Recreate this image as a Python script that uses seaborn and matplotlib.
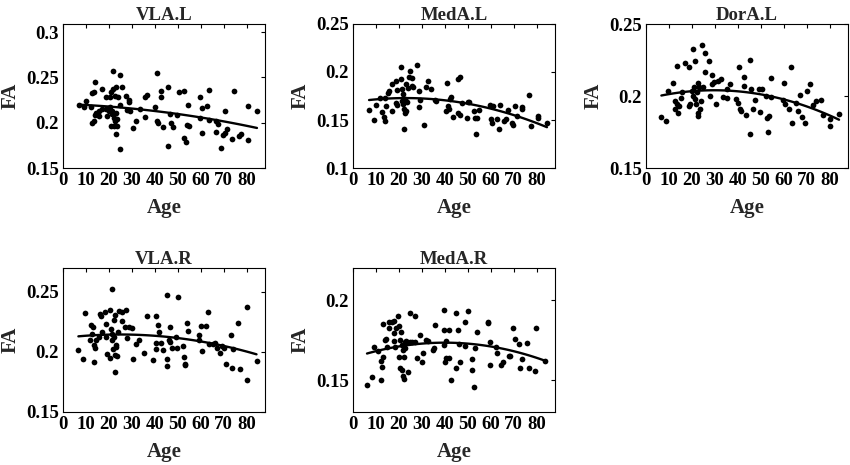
import matplotlib
matplotlib.use("Agg")
import matplotlib.pyplot as plt
import seaborn as sns
from matplotlib.ticker import FuncFormatter

# ages and FA values
vla_l_age = [6.8, 9, 9.9, 12.2, 12.8, 13.5, 13.9, 12.8, 13.5, 13.9, 14.5, 15.7, 15.9, 16.8, 17.1,
             18.6, 18.8, 19.1, 19.9, 20.3, 20.6, 20.9, 21, 21.2, 21.4, 21.7, 21.9, 22, 22.3, 22.6,
             22.8, 22.9, 22.9, 23.2, 23.5, 23.6, 23.9, 24.9, 24.9, 24.9, 25.8, 27.5, 27.8, 28.6,
             28.8, 29, 30.7, 31.9, 33.6, 35.7, 35.9, 36.7, 39.9, 40.9, 41, 41.3, 42.6, 42.9, 43.5,
             45.8, 45.8, 46.7, 47, 47.8, 49.7, 50.6, 52.8, 52.6, 53.8, 53.9, 54.6, 54.8, 59.6,
             59.7, 60.6, 60.6, 62.6, 63.8, 63.8, 66.7, 66.7, 67.7, 68.7, 69.6, 70.4, 70.6, 71.4,
             73.5, 74.5, 76.8, 77.5, 80.4, 80.6, 84.5]
vla_l_fa = [0.2195, 0.2176, 0.2243, 0.2176, 0.2324, 0.2342, 0.2445, 0.2, 0.2015, 0.2088, 0.2103,
            0.2077, 0.2125, 0.2371, 0.2151, 0.2151, 0.2287, 0.2077, 0.2125, 0.2287, 0.2176, 0.1967,
            0.2335, 0.2096, 0.2125, 0.2574, 0.2371, 0.2051, 0.1967, 0.2298, 0.2022, 0.239, 0.1875,
            0.2103, 0.204, 0.1967, 0.2287, 0.2529, 0.171, 0.2199, 0.239, 0.2298, 0.214, 0.225,
            0.2224, 0.2125, 0.1941, 0.2015, 0.2151, 0.2059, 0.2287, 0.2309, 0.2169, 0.2544, 0.2022,
            0.1993, 0.2279, 0.2346, 0.1956, 0.2397, 0.1746, 0.2096, 0.1993, 0.1956, 0.2088, 0.2342,
            0.2353, 0.1831, 0.1783, 0.1978, 0.2191, 0.1967, 0.2279, 0.2051, 0.189, 0.2158, 0.2187,
            0.2364, 0.2029, 0.2022, 0.19, 0.1985, 0.1721, 0.1868, 0.1882, 0.2132, 0.193, 0.182,
            0.2353, 0.1857, 0.1875, 0.1812, 0.2187, 0.2132]

meda_l_age = [7, 9, 9.9, 11.9, 12.8, 13.3, 13.9, 14.2, 13.8, 15.1, 15.7, 17, 17.1, 18.7, 18.8,
              19.1, 19.3, 20.9, 20.9, 21.2, 21.4, 21.7, 21.7, 22, 22.2, 22.5, 22.6, 22.9, 23.2,
              23.5, 23.8, 24.3, 24.9, 25.5, 25.8, 26.1, 27.8, 28.7, 28.8, 29.3, 30.9, 31.9, 32.8,
              33.9, 35.9, 36.2, 40.6, 40.9, 41.2, 41.7, 42.3, 42.8, 43.5, 45.8, 46.7, 45.8, 46.7,
              47.4, 49.7, 50.1, 50.7, 52.5, 53, 53.8, 54.1, 54.8, 59.7, 60, 60.6, 60.9, 62.6, 63.5,
              63.9, 65.9, 66.7, 67.5, 69.1, 69.9, 70.6, 71.6, 73.6, 73.8, 76.5, 77.5, 80.6, 80.7,
              84.5]
meda_l_fa = [0.1608, 0.1503, 0.166, 0.1729, 0.1583, 0.1528, 0.1493, 0.1642, 0.1729, 0.1778, 0.1799,
             0.1875, 0.159, 0.1903, 0.1674, 0.1812, 0.166, 0.1927, 0.2049, 0.1701, 0.1823, 0.1667,
             0.1771, 0.1406, 0.1615, 0.1569, 0.1719, 0.1875, 0.159, 0.1684, 0.1833, 0.1951, 0.2014,
             0.1858, 0.1938, 0.1847, 0.2076, 0.1639, 0.1799, 0.1708, 0.1448, 0.184, 0.1903, 0.1823,
             0.1708, 0.1694, 0.159, 0.1889, 0.1649, 0.1615, 0.1715, 0.1743, 0.1528, 0.1927, 0.1944,
             0.1569, 0.1556, 0.1674, 0.1521, 0.1688, 0.1688, 0.159, 0.1521, 0.1354, 0.1521, 0.1604,
             0.166, 0.151, 0.1465, 0.1649, 0.151, 0.1406, 0.1653, 0.1493, 0.151, 0.1604, 0.1465,
             0.1451, 0.1649, 0.1545, 0.1639, 0.1615, 0.176, 0.1434, 0.1545, 0.1521, 0.1465]

dora_l_age = [6.7, 8.7, 9.7, 11.7, 13.6, 12.8, 12.5, 13.8, 13.3, 14.5, 15.4, 16.8, 15.9, 18.7, 18.6,
              19, 20, 20.6, 20.3, 20.9, 21.2, 21.4, 21.7, 22, 22.5, 22.6, 22.8, 23.2, 23.6, 24.1,
              24.6, 24.9, 25.5, 25.8, 27.5, 27.7, 28.7, 28.8, 29.7, 30.6, 31.3, 32.6, 33.6, 35.2,
              35.5, 36.5, 39.4, 40.4, 40, 40.9, 41.6, 42.5, 42.6, 43.5, 45.4, 45.5, 45.8, 46.4, 47.4,
              49.3, 49.7, 50.4, 52.2, 52.5, 53.3, 53.6, 54.3, 54.5, 59.7, 60.3, 60.6, 62.3, 63.3,
              63.5, 65.2, 66.2, 67.1, 68.1, 69.3, 70.3, 71.3, 72.9, 74.2, 76.4, 77.2, 80, 80.1, 84.1]
dora_l_fa = [0.1857, 0.1824, 0.2032, 0.2088, 0.2208, 0.1963, 0.191, 0.188, 0.1944, 0.193, 0.1986,
             0.2227, 0.2025, 0.2204, 0.193, 0.1944, 0.2037, 0.2326, 0.2002, 0.206, 0.1979, 0.2245,
             0.1944, 0.2025, 0.2088, 0.188, 0.1863, 0.206, 0.191, 0.1963, 0.2356, 0.206, 0.2296,
             0.2169, 0.2245, 0.2002, 0.2148, 0.2083, 0.2097, 0.1944, 0.2106, 0.2118, 0.1995, 0.1986,
             0.2049, 0.2083, 0.1979, 0.2199, 0.1949, 0.191, 0.1898, 0.2134, 0.2072, 0.187, 0.225,
             0.1736, 0.2049, 0.191, 0.1972, 0.2049, 0.1887, 0.2046, 0.2002, 0.1847, 0.1748, 0.1863,
             0.2125, 0.1991, 0.1972, 0.2088, 0.1944, 0.191, 0.2204, 0.1815, 0.1949, 0.1894, 0.2009,
             0.1852, 0.181, 0.2037, 0.2083, 0.194, 0.1968, 0.1972, 0.187, 0.1843, 0.1794, 0.1875]

vla_r_age = [6.7, 8.7, 9.7, 13.6, 12.2, 13, 11.6, 12.8, 13.3, 13.9, 14.5, 15.7, 16.2, 16.7, 17.1,
             18.4, 18.6, 18.8, 19.3, 20.3, 20.6, 20.9, 21.2, 21.4, 21.4, 21.7, 22, 22.3, 22.6, 22.8,
             22.9, 23.2, 22.5, 23.5, 24.1, 24.6, 25.5, 25.8, 27.2, 27.5, 27.8, 28.7, 29.9, 30.4,
             31.6, 33.3, 35.4, 36.5, 39.4, 40.3, 40.3, 40.6, 41.4, 42, 42.9, 43.5, 45.4, 45.4, 45.5,
             46.1, 46.4, 46.7, 47.5, 49.6, 50.1, 49.4, 52.2, 52.5, 53, 53.3, 54.2, 54.3, 59.1, 59.3,
             60.3, 60.6, 62.3, 63.3, 63.5, 65.2, 66.4, 67.2, 68.4, 69.3, 70.1, 71, 73.2, 73.5, 74.2,
             76.2, 77.1, 80.1, 80.1, 84.3]
vla_r_fa = [0.2014, 0.1945, 0.2324, 0.1918, 0.2225, 0.2206, 0.2096, 0.2151, 0.2055, 0.2033, 0.2104,
            0.2124, 0.2316, 0.2302, 0.217, 0.233, 0.2234, 0.2124, 0.1986, 0.2352, 0.1951, 0.2192,
            0.2151, 0.2522, 0.2096, 0.2027, 0.2269, 0.2124, 0.2308, 0.1978, 0.2055, 0.2041, 0.183,
            0.1967, 0.2165, 0.2343, 0.2261, 0.2335, 0.2206, 0.2352, 0.2115, 0.2206, 0.2198, 0.194,
            0.2069, 0.2104, 0.1995, 0.2302, 0.1931, 0.2302, 0.2022, 0.2077, 0.2225, 0.217, 0.2077,
            0.2014, 0.2473, 0.1945, 0.1885, 0.2104, 0.2206, 0.2082, 0.2033, 0.2033, 0.2462, 0.2124,
            0.2049, 0.1959, 0.1904, 0.189, 0.2242, 0.2176, 0.2143, 0.2104, 0.2214, 0.2005, 0.2214,
            0.2335, 0.2069, 0.2069, 0.2077, 0.2033, 0.1995, 0.2049, 0.2033, 0.1896, 0.2143, 0.1863,
            0.2027, 0.2242, 0.1857, 0.2371, 0.1766, 0.1923]

meda_r_age = [6.1, 8.1, 9, 11, 12.2, 12.2, 12.8, 13, 13, 13.9, 14.5, 14.9, 15.7, 15.9, 16.8, 18,
              17.7, 18, 18.3, 18.8, 19.7, 20, 20, 20.3, 20.6, 21, 21.2, 21.4, 21.7, 21.7, 22, 22.2,
              22.5, 22.8, 23.2, 23.9, 24.9, 24.9, 25.8, 27, 27.2, 27.8, 29, 29.9, 30.7, 31.9, 32.8,
              34.8, 35.1, 35.9, 39.7, 39.7, 39.7, 40, 40.3, 40.7, 41.7, 42, 42.9, 44.9, 44.9, 45.8,
              46.1, 46.7, 48.7, 48.7, 49.9, 51.9, 51.9, 52.9, 53.3, 53.9, 58.7, 58.8, 59.7, 59.7,
              62.3, 62.6, 64.5, 65.2, 67.8, 68.4, 69.6, 70.7, 72.5, 73.6, 72.8, 75.7, 76.8, 79.4,
              79.7, 83.8]
meda_r_fa = [0.1471, 0.1517, 0.171, 0.1683, 0.1621, 0.1498, 0.1583, 0.1648, 0.185, 0.1752, 0.1758,
             0.1708, 0.1863, 0.1825, 0.1867, 0.1871, 0.1794, 0.1746, 0.1708, 0.1829, 0.1904, 0.1842,
             0.1648, 0.1575, 0.1752, 0.1804, 0.1565, 0.1721, 0.169, 0.1523, 0.1508, 0.1648, 0.1738,
             0.17, 0.1746, 0.1554, 0.1919, 0.1738, 0.1738, 0.1904, 0.1738, 0.1642, 0.1783, 0.1617,
             0.1669, 0.1752, 0.1746, 0.169, 0.17, 0.1846, 0.194, 0.1815, 0.1721, 0.1617, 0.1642,
             0.1746, 0.1815, 0.1642, 0.1502, 0.1919, 0.1579, 0.1815, 0.1725, 0.1613, 0.1717, 0.1867,
             0.1933, 0.1633, 0.1565, 0.1454, 0.17, 0.1804, 0.1863, 0.1856, 0.1596, 0.1742, 0.171,
             0.1669, 0.1592, 0.1617, 0.1654, 0.1654, 0.1825, 0.1758, 0.1725, 0.1633, 0.1579, 0.1731,
             0.1575, 0.1558, 0.1829, 0.1621]

titles = ["VLA.L", "MedA.L", "DorA.L", "VLA.R", "MedA.R"]
ages = [vla_l_age, meda_l_age, dora_l_age, vla_r_age, meda_r_age]
fas = [vla_l_fa, meda_l_fa, dora_l_fa, vla_r_fa, meda_r_fa]
ylims = [(0.15, 0.309), (0.1, 0.25), (0.15, 0.25), (0.15, 0.27), (0.13, 0.2204)]
yticks = [[0.15, 0.2, 0.25, 0.3], [0.1, 0.15, 0.2, 0.25], [0.15, 0.2, 0.25],
          [0.15, 0.2, 0.25], [0.15, 0.2]]
xticks = [0, 10, 20, 30, 40, 50, 60, 70, 80]

sns.set_style("white")
plt.rcParams['font.family'] = ['Liberation Serif', 'DejaVu Serif']
plt.rcParams['font.weight'] = 'bold'

fig = plt.figure(figsize=(8.5, 4.65), dpi=100)

# panel boxes in pixels: left, top
lefts = [63, 353, 646, 63, 353]
tops = [24, 24, 24, 268, 268]
w, h = 202, 144

for i in range(5):
    ax = fig.add_axes([lefts[i] / 850, 1 - (tops[i] + h) / 465, w / 850, h / 465])
    # quadratic fit, like the original
    sns.regplot(x=ages[i], y=fas[i], order=2, ci=None, ax=ax, color='black',
                scatter_kws={'s': 17, 'linewidths': 0, 'alpha': 1},
                line_kws={'lw': 1.7})
    ax.set_xlim(0, 88)
    ax.set_ylim(*ylims[i])
    ax.set_xticks(xticks)
    ax.set_yticks(yticks[i])
    ax.yaxis.set_major_formatter(FuncFormatter(lambda v, p: '%g' % v))
    ax.tick_params(direction='in', top=True, right=True, length=3, width=0.8,
                   labelsize=13.5, pad=3, colors='black')
    for lab in ax.get_xticklabels() + ax.get_yticklabels():
        lab.set_fontweight('bold')
    for sp in ax.spines.values():
        sp.set_color('black')
        sp.set_linewidth(0.8)
    ax.set_title(titles[i], fontsize=13.5, fontweight='bold', pad=3)
    ax.set_xlabel("Age", fontsize=15, fontweight='bold', labelpad=6)
    ax.set_ylabel("FA", fontsize=15, fontweight='bold', labelpad=4)

fig.savefig("out.png", dpi=100)
